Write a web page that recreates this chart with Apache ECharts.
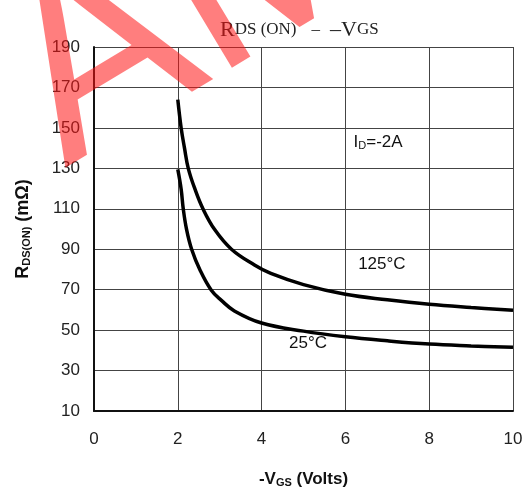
<!DOCTYPE html>
<html><head><meta charset="utf-8">
<script src="https://cdn.jsdelivr.net/npm/echarts@6/dist/echarts.min.js"></script>
<style>html,body{margin:0;padding:0;background:#fff}#c{width:525px;height:488px}</style>
</head><body><div id="c"></div>
<script>
const xTicks = [0, 2, 4, 6, 8, 10];
const yTicks = [10, 30, 50, 70, 90, 110, 130, 150, 170, 190];
const vgs125 = [2.0, 2.08, 2.16, 2.25, 2.41, 2.6, 2.88, 3.28, 3.83, 4.22, 5, 6, 7, 8, 9, 10];
const rds125 = [164, 150, 140, 130, 119.7, 110, 99.7, 90, 82.2, 78, 72.5, 67.7, 65, 62.8, 61.2, 59.8];
const vgs25 = [2.0, 2.08, 2.13, 2.21, 2.33, 2.53, 2.8, 3.04, 3.35, 4.0, 5, 6, 7, 8, 9, 10];
const rds25 = [129.5, 119.7, 110, 99.7, 90, 79.7, 69.7, 64.7, 59.5, 53.5, 49.5, 46.7, 44.7, 43.1, 42.2, 41.5];
const labelId = [6.78, 143];
const label125 = [6.87, 82.4];
const label25 = [5.11, 43.4];

const chart = echarts.init(document.getElementById('c'));
const pts = (xs, ys) => xs.map((x, i) => [x, ys[i]]);
const ann = (coord, text) => ({
  coord, symbol: 'circle', symbolSize: 1, itemStyle: {color: 'rgba(0,0,0,0)'},
  label: {show: true, position: 'inside', formatter: text, color: '#111', fontSize: 17,
    fontFamily: 'Liberation Sans', rich: {sub: {fontSize: 11, verticalAlign: 'bottom', padding: [7,0,0,0], color:'#111', fontFamily:'Liberation Sans'}}}
});
chart.setOption({
  animation: false,
  title: {
    text: '{big|R}{small|DS (ON)}   {small|–}  {big|–V}{small|GS}',
    left: 215, top: 14,
    textStyle: {fontWeight: 'normal', rich: {
      big: {fontSize: 22, fontWeight: 'normal', fontFamily: 'Liberation Serif', color: '#222'},
      small: {fontSize: 17, fontWeight: 'normal', fontFamily: 'Liberation Serif', color: '#222'}
    }}
  },
  grid: {left: 94, right: 12, top: 47, bottom: 77, outerBoundsMode: 'none', containLabel: false},
  xAxis: {
    type: 'value', min: 0, max: 10, interval: 2,
    name: '-V{sub|GS} (Volts)', nameLocation: 'middle', nameGap: 60,
    nameTextStyle: {fontSize: 17, fontWeight: 'bold', color: '#111', fontFamily: 'Liberation Sans',
      rich: {sub: {fontSize: 11, fontWeight: 'bold', verticalAlign: 'bottom', padding: [6,0,0,0], fontFamily: 'Liberation Sans', color: '#111'}}},
    axisLine: {lineStyle: {color: '#111', width: 2}},
    axisTick: {show: false},
    axisLabel: {fontSize: 17, color: '#222', margin: 20, fontFamily: 'Liberation Sans'},
    splitLine: {show: true, lineStyle: {color: '#444', width: 1}}
  },
  yAxis: {
    type: 'value', min: 10, max: 190,
    name: 'R{sub|DS(ON)} (mΩ)', nameLocation: 'middle', nameGap: 62, nameRotate: 90,
    nameTextStyle: {fontSize: 18, fontWeight: 'bold', color: '#111', fontFamily: 'Liberation Sans',
      rich: {sub: {fontSize: 11, fontWeight: 'bold', verticalAlign: 'bottom', padding: [6,0,0,0], fontFamily: 'Liberation Sans', color: '#111'}}},
    axisLine: {show: true, lineStyle: {color: '#111', width: 2}},
    axisTick: {show: false, customValues: yTicks},
    axisLabel: {fontSize: 17, color: '#222', margin: 14, fontFamily: 'Liberation Sans', customValues: yTicks},
    splitLine: {show: true, lineStyle: {color: '#444', width: 1}}
  },
  series: [
    {type: 'line', data: pts(vgs125, rds125), smooth: 0.4, symbol: 'none',
     lineStyle: {color: '#000', width: 3.5},
     markPoint: {data: [ann(labelId, 'I{sub|D}=-2A'), ann(label125, '125°C')]}},
    {type: 'line', data: pts(vgs25, rds25), smooth: 0.4, symbol: 'none',
     lineStyle: {color: '#000', width: 3.5},
     markPoint: {data: [ann(label25, '25°C')]}}
  ],
  graphic: [{
    type: 'text', x: 95, y: 218, rotation: 31 * Math.PI / 180, z: 100,
    style: {text: 'AMS', font: 'normal 260px "Liberation Sans"', fill: 'rgba(255,20,20,0.55)',
      textAlign: 'left', textVerticalAlign: 'bottom'}
  }]
});
</script></body></html>
